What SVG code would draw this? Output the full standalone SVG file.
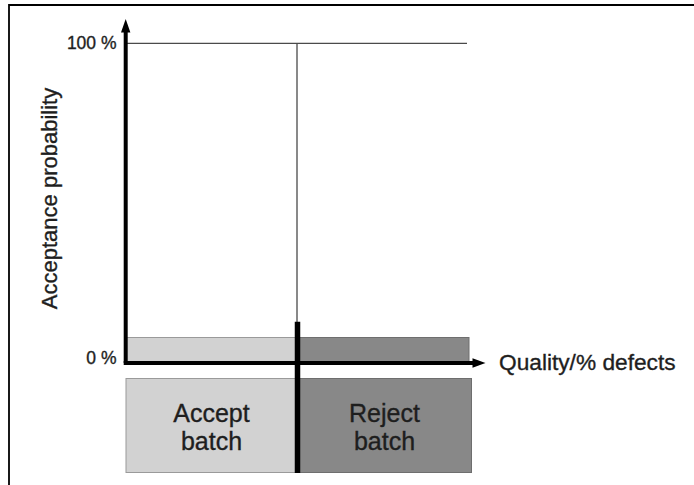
<svg xmlns="http://www.w3.org/2000/svg" width="694" height="485" viewBox="0 0 694 485">
  <defs>
    <style>
      text { font-family: "Liberation Sans", Arial, sans-serif; fill: #1e1e1e; stroke: #1e1e1e; stroke-width: 0.35px; }
      .pct { font-size: 17.5px; text-anchor: end; }
      .lbl { font-size: 22px; }
      .q { font-size: 22.7px; }
      .box { font-size: 25px; text-anchor: middle; }
      .light { fill: #d2d2d2; stroke: #9a9a9a; stroke-width: 1; }
      .dark { fill: #888888; stroke: #6e6e6e; stroke-width: 1; }
      .thin { stroke: #4a4a4a; stroke-width: 1.3; fill: none; }
      .axis { stroke: #000; stroke-width: 4; fill: none; }
    </style>
  </defs>
  <rect width="694" height="485" fill="#fff"/>
  <g id="frame">
    <line x1="9" y1="5" x2="694" y2="5" stroke="#000" stroke-width="2"/>
    <line x1="9" y1="4" x2="9" y2="485" stroke="#000" stroke-width="1.8"/>
  </g>
  <g id="bars">
    <rect class="light" x="126.5" y="337.5" width="171" height="26"/>
    <rect class="dark" x="297.5" y="337.5" width="171.5" height="26"/>
  </g>
  <g id="accept-batch">
    <rect class="light" x="126" y="378.5" width="171.5" height="94"/>
    <text class="box" x="211.5" y="421.5">Accept</text>
    <text class="box" x="211.5" y="449.5">batch</text>
  </g>
  <g id="reject-batch">
    <rect class="dark" x="297.5" y="378.5" width="174" height="94"/>
    <text class="box" x="384.5" y="421.5">Reject</text>
    <text class="box" x="384.5" y="449.5">batch</text>
  </g>
  <g id="connectors">
    <line class="thin" x1="126" y1="43.3" x2="467" y2="43.3"/>
    <line class="thin" x1="297" y1="43.3" x2="297" y2="324"/>
    <line x1="297.5" y1="321.7" x2="297.5" y2="473" stroke="#000" stroke-width="5.5"/>
    <line class="axis" x1="125.7" y1="363" x2="125.7" y2="30"/>
    <polygon points="125.7,19 121,32.5 130.4,32.5" fill="#000"/>
    <line class="axis" x1="123.7" y1="363" x2="475" y2="363"/>
    <polygon points="485.5,363 472.5,358.3 472.5,367.7" fill="#000"/>
  </g>
  <g id="labels">
    <text class="pct" x="116.5" y="49.3">100 %</text>
    <text class="pct" x="116.5" y="364">0 %</text>
    <text class="q" x="499" y="369.5">Quality/% defects</text>
    <text class="lbl" transform="translate(56.5,198.5) rotate(-90)" text-anchor="middle">Acceptance probability</text>
  </g>
</svg>
